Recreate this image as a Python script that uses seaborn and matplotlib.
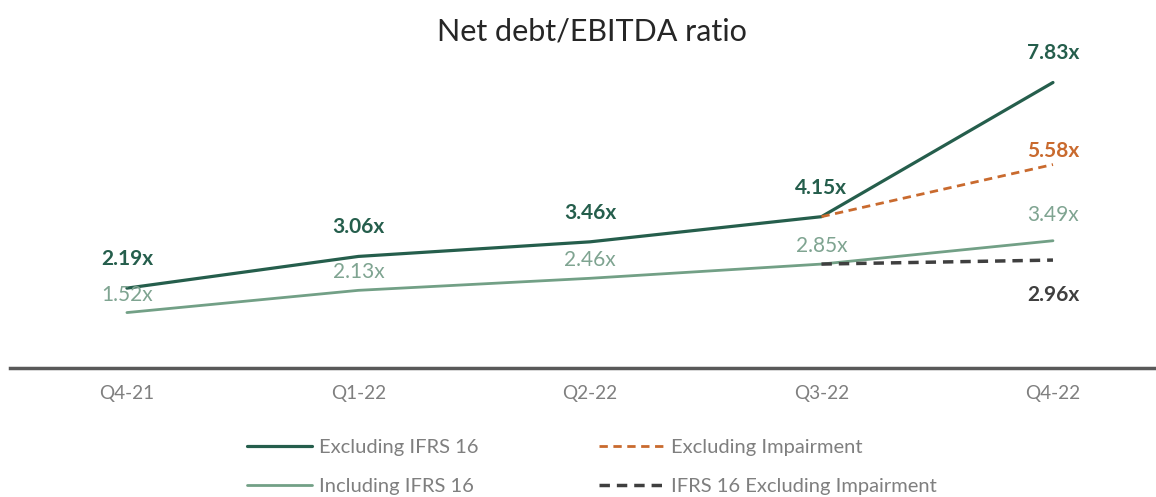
import matplotlib
matplotlib.use("Agg")
import matplotlib.pyplot as plt
import seaborn as sns
import numpy as np
import pandas as pd

quarters = ["Q4-21", "Q1-22", "Q2-22", "Q3-22", "Q4-22"]
excl_ifrs16 = [2.19, 3.06, 3.46, 4.15, 7.83]
incl_ifrs16 = [1.52, 2.13, 2.46, 2.85, 3.49]
excl_impairment = [np.nan, np.nan, np.nan, 4.15, 5.58]
ifrs16_excl_impairment = [np.nan, np.nan, np.nan, 2.85, 2.96]

sns.set_theme(style="white")
plt.rcParams['font.family'] = ['Lato', 'DejaVu Sans']

fig = plt.figure(figsize=(11.56, 4.97), dpi=100)
ax = fig.add_axes([10/1156, (497-368)/497, 1 - 10/1156, (368-69)/497])

x = np.arange(len(quarters))
df = pd.DataFrame({
    "x": x,
    "excl": excl_ifrs16,
    "incl": incl_ifrs16,
    "excl_imp": excl_impairment,
    "ifrs_imp": ifrs16_excl_impairment,
})

c_dark = "#255e4c"
c_light = "#72a086"
c_orange = "#c96a2e"
c_black = "#3f3f3f"

sns.lineplot(data=df, x="x", y="excl", ax=ax, color=c_dark, linewidth=2.3,
             label="Excluding IFRS 16")
sns.lineplot(data=df, x="x", y="incl", ax=ax, color=c_light, linewidth=2.0,
             label="Including IFRS 16")
sns.lineplot(data=df, x="x", y="excl_imp", ax=ax, color=c_orange, linewidth=2.0,
             linestyle=(0, (3, 2)), label="Excluding Impairment")
sns.lineplot(data=df, x="x", y="ifrs_imp", ax=ax, color=c_black, linewidth=2.5,
             linestyle=(0, (3, 2)), label="IFRS 16 Excluding Impairment")

ax.set_xlim(-0.505, 4.445)
ax.set_ylim(0, 8.2)
ax.set_xlabel("")
ax.set_ylabel("")
ax.set_yticks([])
ax.set_xticks(x)
ax.set_xticklabels(quarters, color="#7f7f7f", fontsize=13.7)
ax.tick_params(axis="x", length=0, pad=12)
for s in ["top", "left", "right"]:
    ax.spines[s].set_visible(False)
ax.spines["bottom"].set_color("#595959")
ax.spines["bottom"].set_linewidth(2.5)

def lab(xi, yi, txt, dy, color, bold):
    ax.annotate(txt, (xi, yi), xytext=(0, dy), textcoords="offset pixels",
                ha="center", va="center", color=color, fontsize=15,
                fontweight="bold" if bold else "normal", annotation_clip=False)

for i, v in enumerate(excl_ifrs16):
    lab(i, v, f"{v:.2f}x", 29, c_dark, True)
for i, v in enumerate(incl_ifrs16):
    lab(i, v, f"{v:.2f}x", 18 if i < 4 else 26, "#7fa491", False)
lab(4, excl_impairment[4], f"{excl_impairment[4]:.2f}x", 14, c_orange, True)
lab(4, ifrs16_excl_impairment[4], f"{ifrs16_excl_impairment[4]:.2f}x", -35, c_black, True)

fig.text(592/1156, 1 - 31/497, "Net debt/EBITDA ratio", ha="center", va="center",
         fontsize=22, color="#262626")

handles, labels = ax.get_legend_handles_labels()
ax.get_legend().remove()
leg = fig.legend(handles, labels, ncol=2, loc="center", bbox_to_anchor=(592/1156, 1 - 467/497),
                 frameon=False, fontsize=14.5, labelspacing=1.1, columnspacing=6.0,
                 handlelength=3.2, handletextpad=0.35)
for t in leg.get_texts():
    t.set_color("#7f7f7f")

fig.savefig("out.png", dpi=100)
